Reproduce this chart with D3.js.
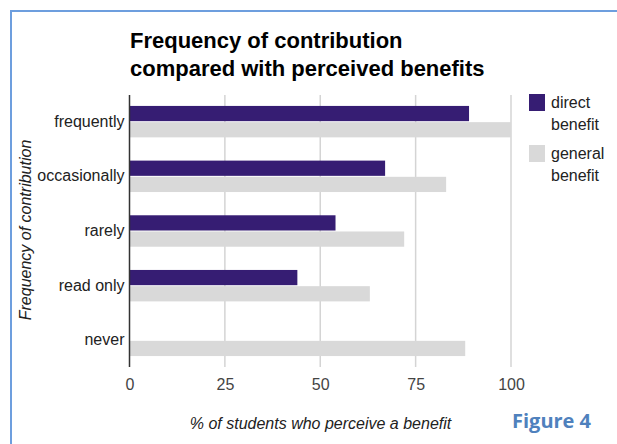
<!DOCTYPE html>
<html>
<head>
<meta charset="utf-8">
<script src="https://cdn.jsdelivr.net/npm/d3@7"></script>
<style>
  body { margin: 0; background: #fff; }
  svg { display: block; font-family: "Liberation Sans", Arial, sans-serif; }
</style>
</head>
<body>
<div id="chart"></div>
<script>
// data
var categories = ["frequently", "occasionally", "rarely", "read only", "never"];
var directBenefit = [89, 67, 54, 44, 0];
var generalBenefit = [100, 83, 72, 63, 88];
var xTicks = [0, 25, 50, 75, 100];
var seriesNames = ["direct benefit", "general benefit"];
var seriesColors = ["#361d73", "#d9d9d9"];

var width = 617, height = 444;
var svg = d3.select("#chart").append("svg").attr("width", width).attr("height", height);

// frame of the figure box
svg.append("path")
  .attr("d", "M11,444 L11,11 L617,11")
  .attr("fill", "none").attr("stroke", "#6d9ede").attr("stroke-width", 2);

var plot = {left: 129.5, right: 511, top: 95, bottom: 367};

var x = d3.scaleLinear().domain([0, 100]).range([plot.left, plot.right]);
var y = d3.scaleBand().domain(categories).range([plot.top, plot.bottom])
  .paddingInner(0.425).paddingOuter(0.2);
var ySub = d3.scaleBand().domain([0, 1]).range([0, y.bandwidth()]).paddingInner(0.06);

// title
var title = svg.append("text").attr("x", 130).attr("font-weight", "bold")
  .attr("font-size", 22).attr("fill", "#000");
title.append("tspan").attr("x", 130).attr("y", 48).text("Frequency of contribution");
title.append("tspan").attr("x", 130).attr("y", 76).text("compared with perceived benefits");

// gridlines
svg.append("g").selectAll("line").data(xTicks.slice(1)).enter().append("line")
  .attr("x1", d => x(d)).attr("x2", d => x(d))
  .attr("y1", plot.top).attr("y2", plot.bottom)
  .attr("stroke", "#d4d4d4").attr("stroke-width", 1.5);

// bars
var rows = categories.map((c, i) => ({cat: c, vals: [directBenefit[i], generalBenefit[i]]}));
var groups = svg.append("g").selectAll("g").data(rows).enter().append("g")
  .attr("transform", d => "translate(0," + y(d.cat) + ")");
groups.selectAll("rect").data(d => d.vals.map((v, k) => ({v: v, k: k}))).enter()
  .filter(d => d.v > 0)
  .append("rect")
  .attr("x", x(0))
  .attr("y", d => ySub(d.k))
  .attr("width", d => x(d.v) - x(0))
  .attr("height", ySub.bandwidth())
  .attr("fill", d => seriesColors[d.k]);

// baseline axis
svg.append("line").attr("x1", x(0)).attr("x2", x(0))
  .attr("y1", plot.top).attr("y2", plot.bottom)
  .attr("stroke", "#333").attr("stroke-width", 1.5);

// category labels
var yAxis = svg.append("g").attr("transform", "translate(" + (plot.left - 5) + ",0)")
  .call(d3.axisLeft(y).tickSize(0).tickPadding(0));
yAxis.select(".domain").remove();
yAxis.selectAll("text").attr("font-size", 16).attr("fill", "#222")
  .attr("font-family", "Liberation Sans, Arial, sans-serif");

// x tick labels
var xAxis = svg.append("g").attr("transform", "translate(0," + (plot.bottom + 12) + ")")
  .call(d3.axisBottom(x).tickValues(xTicks).tickSize(0).tickPadding(0));
xAxis.select(".domain").remove();
xAxis.selectAll("text").attr("font-size", 16).attr("fill", "#444")
  .attr("font-family", "Liberation Sans, Arial, sans-serif");

// axis titles
svg.append("text").attr("x", 320.5).attr("y", 429).attr("text-anchor", "middle")
  .attr("font-size", 16).attr("font-style", "italic").attr("fill", "#222")
  .text("% of students who perceive a benefit");
svg.append("text").attr("transform", "translate(31,230) rotate(-90)")
  .attr("text-anchor", "middle").attr("font-size", 16).attr("font-style", "italic")
  .attr("fill", "#222").text("Frequency of contribution");

// legend
var legend = svg.append("g").selectAll("g").data(seriesNames).enter().append("g")
  .attr("transform", (d, i) => "translate(529," + (94 + i * 51) + ")");
legend.append("rect").attr("width", 16).attr("height", 17)
  .attr("fill", (d, i) => seriesColors[i]);
legend.each(function(d) {
  var words = d.split(" ");
  var t = d3.select(this).append("text").attr("font-size", 16).attr("fill", "#222");
  words.forEach((w, j) => t.append("tspan").attr("x", 22).attr("y", 14 + j * 22).text(w));
});

// figure caption
svg.append("text").attr("x", 512).attr("y", 428)
  .attr("font-family", "Open Sans, sans-serif").attr("font-weight", "bold")
  .attr("font-size", 20).attr("fill", "#4f81bd").text("Figure 4");
</script>
</body>
</html>
